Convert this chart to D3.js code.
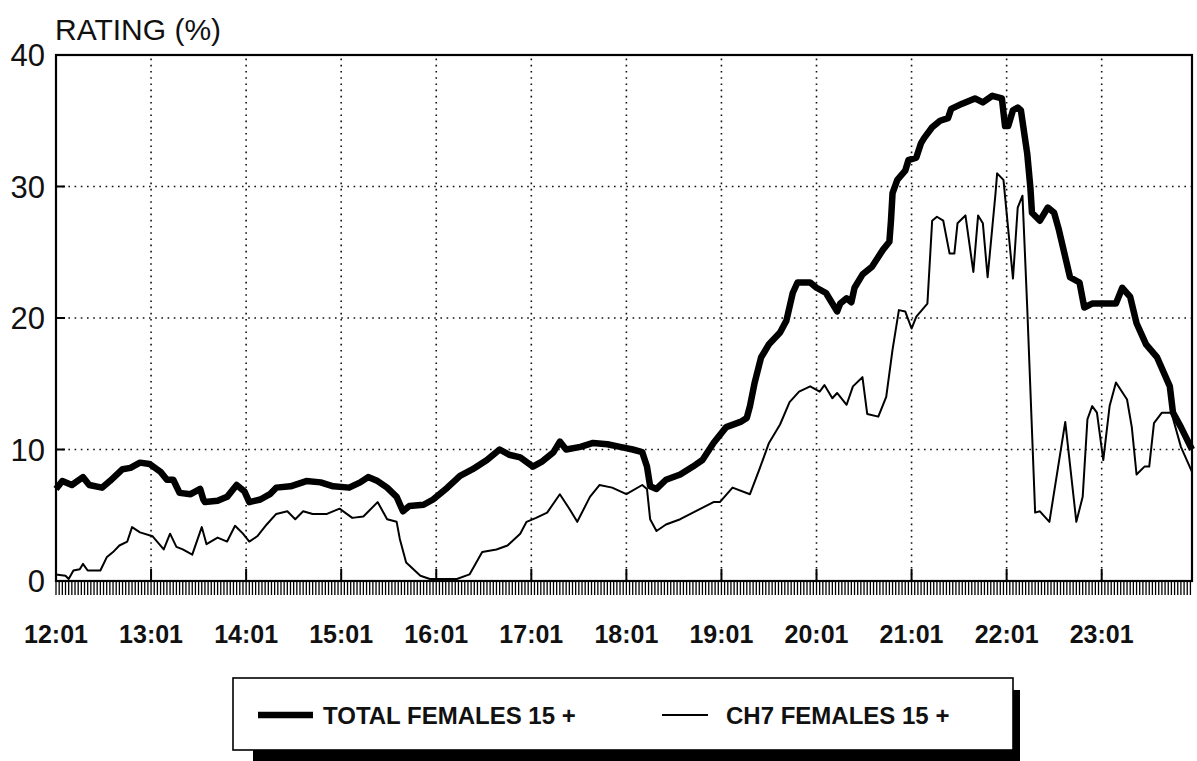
<!DOCTYPE html>
<html>
<head>
<meta charset="utf-8">
<script src="https://cdn.jsdelivr.net/npm/d3@7"></script>
<style>
  body { margin: 0; background: #fff; }
  svg { display: block; font-family: "Liberation Sans", Arial, Helvetica, sans-serif; }
</style>
</head>
<body>
<svg id="chart" width="1197" height="761"></svg>
<script>
// time = minutes after 12:01, value = rating (%)
const totalFemales = [
  [0,7.0],[4,7.6],[10,7.3],[17,7.9],[21,7.3],[29,7.1],[34,7.6],[42,8.5],[47,8.6],[53,9.0],
  [59,8.9],[66,8.3],[70,7.7],[74,7.7],[78,6.7],[85,6.6],[91,7.0],[93,6.2],[94,6.0],[102,6.1],
  [108,6.4],[114,7.3],[119,6.8],[122,6.0],[129,6.2],[135,6.6],[139,7.1],[148,7.2],[158,7.6],[167,7.5],
  [175,7.2],[185,7.1],[192,7.5],[197,7.9],[203,7.6],[209,7.1],[215,6.4],[219,5.3],[223,5.7],[232,5.8],
  [238,6.2],[247,7.1],[255,8.0],[263,8.5],[272,9.2],[280,10.0],[286,9.6],[293,9.4],[301,8.7],[307,9.1],
  [314,9.8],[318,10.6],[322,10.0],[331,10.2],[339,10.5],[348,10.4],[356,10.2],[364,10.0],[370,9.8],[373,8.7],
  [375,7.2],[379,7.0],[385,7.7],[394,8.1],[402,8.7],[408,9.2],[415,10.5],[423,11.7],[432,12.1],[436,12.4],
  [438,13.3],[441,15.1],[445,17.0],[450,18.0],[457,18.9],[461,19.8],[465,21.9],[468,22.7],[476,22.7],[480,22.3],
  [486,21.9],[490,21.1],[493,20.5],[495,21.1],[499,21.5],[502,21.2],[504,22.3],[509,23.3],[515,23.9],[522,25.2],
  [526,25.8],[527,27.4],[528,29.5],[531,30.5],[536,31.2],[538,32.0],[543,32.2],[546,33.3],[548,33.7],[553,34.5],
  [558,35.0],[563,35.2],[565,35.9],[572,36.3],[580,36.7],[585,36.4],[591,36.9],[597,36.7],[599,34.6],[601,34.6],
  [604,35.8],[607,36.0],[609,35.8],[613,32.5],[615,29.9],[616,28.0],[621,27.4],[626,28.4],[630,28.0],[633,26.7],
  [640,23.1],[646,22.7],[649,20.8],[654,21.1],[669,21.1],[673,22.3],[678,21.6],[682,19.6],[688,18.0],[695,17.0],
  [703,14.8],[705,12.8],[710,11.7],[717,10.0]
];

const ch7Females = [
  [0,0.5],[6,0.4],[8,0.15],[11,0.8],[15,0.9],[17,1.3],[20,0.8],[28,0.8],[32,1.8],[36,2.2],
  [40,2.7],[45,3.0],[48,4.1],[53,3.7],[61,3.4],[68,2.4],[72,3.6],[76,2.6],[80,2.4],[86,2.0],
  [92,4.1],[95,2.8],[102,3.3],[108,3.0],[113,4.2],[118,3.6],[122,3.0],[127,3.4],[133,4.3],[139,5.1],
  [146,5.3],[151,4.7],[156,5.3],[162,5.1],[171,5.1],[179,5.5],[187,4.8],[194,4.9],[203,6.0],[209,4.7],
  [215,4.5],[217,3.2],[221,1.4],[230,0.4],[236,0.15],[253,0.15],[261,0.5],[269,2.2],[278,2.4],[285,2.7],
  [293,3.6],[297,4.5],[303,4.8],[310,5.2],[318,6.6],[324,5.5],[329,4.5],[337,6.4],[343,7.3],[351,7.1],
  [360,6.6],[370,7.3],[373,7.0],[375,4.7],[379,3.8],[385,4.3],[394,4.7],[402,5.2],[415,6.0],[419,6.0],
  [427,7.1],[438,6.6],[444,8.5],[450,10.5],[457,11.9],[463,13.6],[469,14.4],[476,14.8],[482,14.4],[485,14.9],
  [490,13.9],[493,14.3],[499,13.4],[503,14.8],[509,15.5],[512,12.7],[519,12.5],[524,14.0],[528,17.6],[532,20.6],
  [536,20.5],[540,19.2],[543,20.1],[550,21.1],[553,27.4],[556,27.7],[560,27.4],[564,24.9],[567,24.9],[569,27.2],
  [574,27.8],[579,23.5],[582,27.8],[585,27.2],[588,23.1],[593,29.5],[594,31.0],[598,30.5],[604,23.0],[607,28.4],
  [610,29.3],[613,20.8],[618,5.2],[621,5.3],[627,4.5],[637,12.1],[644,4.5],[648,6.4],[651,12.3],[654,13.3],
  [657,12.8],[661,9.2],[665,13.3],[669,15.1],[676,13.8],[679,11.7],[682,8.1],[687,8.7],[690,8.7],[693,12.0],
  [698,12.8],[704,12.8],[710,10.2],[717,8.3]
];

const hourLabels = ["12:01","13:01","14:01","15:01","16:01","17:01","18:01","19:01","20:01","21:01","22:01","23:01"];
const yTicks = [0, 10, 20, 30, 40];
const seriesNames = ["TOTAL FEMALES 15 +", "CH7 FEMALES 15 +"];
const yTitle = "RATING (%)";

const margin = {left: 56, top: 55, right: 5, bottom: 180};
const W = 1197, H = 761;
const innerW = W - margin.left - margin.right;   // 1136
const innerH = H - margin.top - margin.bottom;   // 526

const svg = d3.select('#chart');
const x = d3.scaleLinear().domain([0, 717]).range([margin.left, margin.left + innerW]);
const y = d3.scaleLinear().domain([0, 40]).range([margin.top + innerH, margin.top]);

// dotted grid
const grid = svg.append('g').attr('stroke', '#111').attr('stroke-width', 1.6)
  .attr('stroke-dasharray', '1.6 4.6');
grid.selectAll('.hg').data(yTicks.slice(1, -1)).join('line')
  .attr('x1', x(0)).attr('x2', x(717)).attr('y1', d => y(d)).attr('y2', d => y(d));
grid.selectAll('.vg').data(d3.range(60, 717, 60)).join('line')
  .attr('y1', y(0)).attr('y2', y(40)).attr('x1', d => x(d)).attr('x2', d => x(d));

// solid short major ticks inside frame
const major = svg.append('g').attr('stroke', '#000').attr('stroke-width', 2);
major.selectAll('.yt').data(yTicks.slice(1, -1)).join('line')
  .attr('x1', x(0)).attr('x2', x(0) + 9).attr('y1', d => y(d)).attr('y2', d => y(d));
major.selectAll('.xt').data(d3.range(60, 717, 60)).join('line')
  .attr('y1', y(0)).attr('y2', y(0) - 12).attr('x1', d => x(d)).attr('x2', d => x(d));

// minor ticks (comb under the axis)
svg.append('g').attr('stroke', '#000').attr('stroke-width', 1.3)
  .selectAll('line').data(d3.range(0, 718, 2)).join('line')
  .attr('x1', d => x(d)).attr('x2', d => x(d))
  .attr('y1', y(0)).attr('y2', y(0) + 14);

// frame
svg.append('rect')
  .attr('x', x(0)).attr('y', y(40))
  .attr('width', x(717) - x(0)).attr('height', y(0) - y(40))
  .attr('fill', 'none').attr('stroke', '#000').attr('stroke-width', 2.2);

// series
const line = d3.line().x(d => x(d[0])).y(d => y(d[1]));
svg.append('path').datum(ch7Females)
  .attr('d', line).attr('fill', 'none').attr('stroke', '#000')
  .attr('stroke-width', 2).attr('stroke-linejoin', 'round');
svg.append('path').datum(totalFemales)
  .attr('d', line).attr('fill', 'none').attr('stroke', '#000')
  .attr('stroke-width', 6.5).attr('stroke-linejoin', 'round');

// y labels
svg.append('g').selectAll('text').data(yTicks).join('text')
  .attr('x', 45).attr('y', d => y(d)).attr('dy', '0.36em')
  .attr('text-anchor', 'end').attr('font-size', 31).attr('fill', '#111')
  .text(d => d);

svg.append('text')
  .attr('x', 55).attr('y', 40)
  .attr('font-size', 30).attr('fill', '#111')
  .text(yTitle);

// x labels
svg.append('g').selectAll('text').data(hourLabels).join('text')
  .attr('x', (d, i) => x(i * 60)).attr('y', 643)
  .attr('text-anchor', 'middle').attr('font-size', 25).attr('font-weight', 'bold').attr('fill', '#111')
  .text(d => d);

// legend
const lg = svg.append('g');
lg.append('rect').attr('x', 253).attr('y', 690).attr('width', 767).attr('height', 72).attr('fill', '#000');
lg.append('rect').attr('x', 233).attr('y', 678).attr('width', 780).attr('height', 72)
  .attr('fill', '#fff').attr('stroke', '#000').attr('stroke-width', 1.6);

const items = [
  {name: seriesNames[0], w: 6.5, lx: 258, lw: 55, tx: 323},
  {name: seriesNames[1], w: 1.8, lx: 662, lw: 46, tx: 726}
];
items.forEach(it => {
  lg.append('line').attr('x1', it.lx).attr('x2', it.lx + it.lw).attr('y1', 715).attr('y2', 715)
    .attr('stroke', '#000').attr('stroke-width', it.w);
  lg.append('text').attr('x', it.tx).attr('y', 724)
    .attr('font-size', 24).attr('font-weight', 'bold').attr('fill', '#111')
    .text(it.name);
});
</script>
</body>
</html>
